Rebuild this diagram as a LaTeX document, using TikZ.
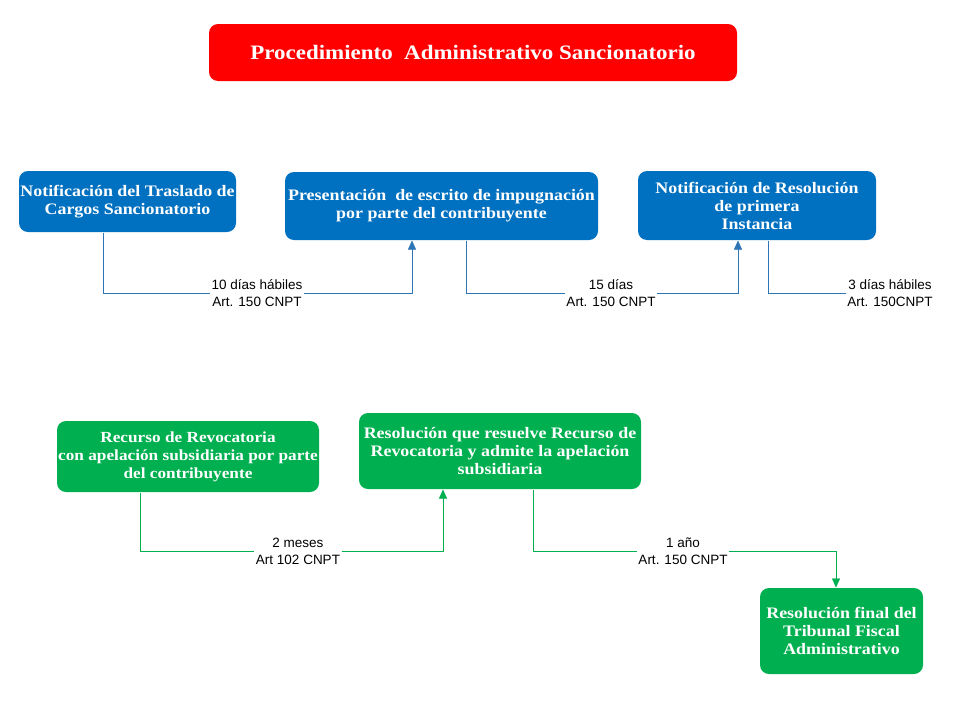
\documentclass[tikz,border=0pt]{standalone}
\usepackage{fontspec}
\setmainfont[FakeStretch=1.12]{Liberation Serif}
\newfontfamily\plazofont{Liberation Sans}
\usetikzlibrary{arrows.meta,backgrounds}
\definecolor{rojo}{HTML}{FF0000}
\definecolor{azul}{HTML}{0070C0}
\definecolor{verde}{HTML}{00B050}
\definecolor{lineaazul}{HTML}{2E75B6}

\begin{document}
\begin{tikzpicture}[x=1pt, y=-1pt, >={Triangle[width=8pt,length=9pt]}, line width=1pt]
\tikzstyle{caja}=[rounded corners=9pt, text=white, align=center, inner sep=0pt, font=\bfseries\fontsize{16}{18}\selectfont]
\tikzstyle{cajaazul}=[caja, fill=azul]
\tikzstyle{cajaverde}=[caja, fill=verde]
\tikzstyle{plazo}=[fill=white, align=center, inner sep=1pt, font=\plazofont\fontsize{13.5}{17}\selectfont]
\useasboundingbox (0,0) rectangle (960,720);
\node[caja, fill=rojo, minimum width=528, minimum height=57, font=\bfseries\fontsize{20.5}{22}\selectfont] (titulo) at (473,52.5) {Procedimiento\ \ Administrativo Sancionatorio};
\node[cajaazul, minimum width=217, minimum height=61] (traslado)   at (127.5,201.5) {Notificación del Traslado de\\Cargos Sancionatorio};
\node[cajaazul, minimum width=313, minimum height=68] (impugnacion) at (441.5,206) {Presentación\ \ de escrito de impugnación\\por parte del contribuyente};
\node[cajaazul, minimum width=238, minimum height=69] (primera)    at (757,205.5) {Notificación de Resolución\\de primera\\Instancia};
\node[cajaverde, minimum width=262, minimum height=71, font=\bfseries\fontsize{15.4}{18}\selectfont] (recurso) at (188,456.5) {Recurso de Revocatoria\\con apelación subsidiaria por parte\\del contribuyente};
\node[cajaverde, minimum width=282, minimum height=76] (admite)    at (500,451) {Resolución que resuelve Recurso de\\Revocatoria y admite la apelación\\subsidiaria};
\node[cajaverde, minimum width=163, minimum height=86] (tribunal)  at (841.5,631) {Resolución final del\\Tribunal Fiscal\\Administrativo};
\node[plazo] (p1) at (257,293.5) {10 días hábiles\\Art. 150 CNPT};
\node[plazo] (p2) at (611,293.5) {15 días\\Art. 150 CNPT};
\node[plazo] (p3) at (890,293.5) {3 días hábiles\\Art. 150CNPT};
\node[plazo] (p4) at (298,551.5) {2 meses\\Art 102 CNPT};
\node[plazo] (p5) at (683,551.5) {1 año\\Art. 150 CNPT};
\begin{scope}[on background layer]
\draw[lineaazul, ->] ([xshift=-24.5]traslado.south) |- (p1) -| ([xshift=-29.5]impugnacion.south);
\draw[lineaazul, ->] ([xshift=24.5]impugnacion.south) |- (p2) -| ([xshift=-19]primera.south);
\draw[lineaazul] ([xshift=11]primera.south) |- (p3.west);
\draw[verde, ->] ([xshift=-48]recurso.south) |- (p4) -| ([xshift=-57]admite.south);
\draw[verde, ->] ([xshift=33]admite.south) |- (p5) -| ([xshift=-5.5]tribunal.north);
\end{scope}
\end{tikzpicture}
\end{document}
